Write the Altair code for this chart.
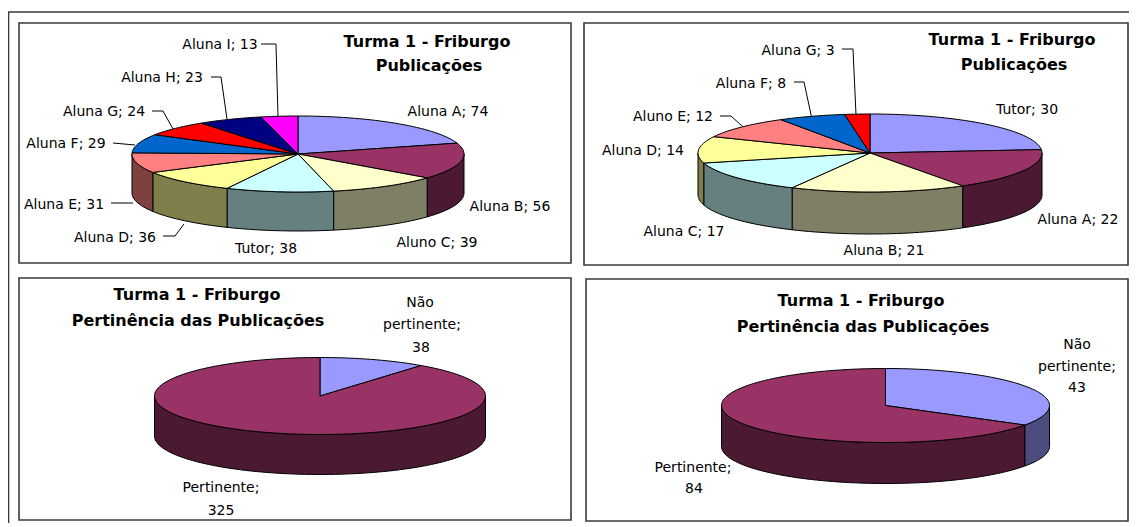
import math
import altair as alt
import pandas as pd

# ---- values ----
P1_NAMES = ["Aluna A", "Aluna B", "Aluno C", "Tutor", "Aluna D", "Aluna E", "Aluna F", "Aluna G", "Aluna H", "Aluna I"]
P1_VALUES = [74, 56, 39, 38, 36, 31, 29, 24, 23, 13]
P2_NAMES = ["Tutor", "Aluna A", "Aluna B", "Aluna C", "Aluna D", "Aluno E", "Aluna F", "Aluna G"]
P2_VALUES = [30, 22, 21, 17, 14, 12, 8, 3]
P3_VALUES = [38, 325]
P4_VALUES = [43, 84]
TITLE_1 = "Turma 1 - Friburgo"
TITLE_PUB = "Publicações"
TITLE_PERT = "Pertinência das Publicações"

# ---- styles ----
TOP_COLORS = ["#9999FF", "#993366", "#FFFFCC", "#CCFFFF", "#FFFF99", "#FF8080", "#0066CC", "#FF0000", "#000080", "#FF00FF"]
P2_TOP = ["#9999FF", "#993366", "#FFFFCC", "#CCFFFF", "#FFFF99", "#FF8080", "#0066CC", "#FF0000"]
def dark(c):
    return "#" + "".join(f"{int(c[i:i+2], 16) // 2:02X}" for i in (1, 3, 5))

# ---- layout: screen pixels ----
X0, X1, Y0, Y1 = 8, 1129, 8, 523
FRAMES = [(19, 571, 23, 263), (584, 1128, 23, 265), (19, 571, 278, 520), (586, 1128, 279, 521)]
PIES = [  # cx, cy, rx, ry, depth
    (298, 154, 166, 38, 39),
    (870, 153, 172, 39, 42),
    (320, 396, 165.5, 38.5, 40),
    (885.5, 405.5, 164, 37, 41),
]
LEADERS = [
    [(261, 44), (276, 44), (278, 117)],
    [(211, 77), (221, 77), (227, 119)],
    [(152, 111), (163, 111), (173, 129)],
    [(113, 143), (135, 145)],
    [(111, 203), (133, 203)],
    [(163, 236), (175, 236), (184, 224)],
    [(842, 49), (853, 49), (856, 115)],
    [(794, 82), (804, 82), (811.5, 117)],
    [(720, 116), (731, 116), (742, 126)],
]
P1_LABEL_POS = [(448, 111), (510, 206), (437, 242), (266, 248), (115, 237), (64, 204), (66, 143), (104, 111), (162, 77), (220, 44)]
P2_LABEL_POS = [(1027, 109), (1078, 219), (884, 250), (684, 231), (643, 150), (673, 116), (751, 83), (798, 50)]

def label_rows():
    rows = []
    for names, vals, pos in ((P1_NAMES, P1_VALUES, P1_LABEL_POS), (P2_NAMES, P2_VALUES, P2_LABEL_POS)):
        for n, v, (x, y) in zip(names, vals, pos):
            rows.append({"x": x, "y": y, "t": f"{n}; {v}"})
    for t, x, y in (("Não", 420, 302), ("pertinente;", 422, 324), (str(P3_VALUES[0]), 421, 347),
                    ("Pertinente;", 221, 487), (str(P3_VALUES[1]), 221, 510),
                    ("Não", 1077, 344), ("pertinente;", 1077, 366), (str(P4_VALUES[0]), 1077, 387),
                    ("Pertinente;", 693, 467), (str(P4_VALUES[1]), 694, 488)):
        rows.append({"x": x, "y": y, "t": t})
    return rows

def title_rows():
    return [
        {"x": 427, "y": 41, "t": TITLE_1}, {"x": 429, "y": 65, "t": TITLE_PUB},
        {"x": 1012, "y": 39, "t": TITLE_1}, {"x": 1014, "y": 64, "t": TITLE_PUB},
        {"x": 197, "y": 294, "t": TITLE_1}, {"x": 198, "y": 320, "t": TITLE_PERT},
        {"x": 861, "y": 300, "t": TITLE_1}, {"x": 863, "y": 326, "t": TITLE_PERT},
    ]

# ---- slices derived from the values ----
def arc_points(a0, a1):
    n = max(2, int(abs(a1 - a0) / 2) + 1)
    return [a0 + (a1 - a0) * i / n for i in range(n + 1)]

def pt(pie, deg, drop=0):
    cx, cy, rx, ry, _ = pie
    r = math.radians(deg)
    return cx + rx * math.sin(r), cy - ry * math.cos(r) + drop

top_rows, side_rows = [], []
SERIES = [(P1_VALUES, TOP_COLORS), (P2_VALUES, P2_TOP), (P3_VALUES, TOP_COLORS[:2]), (P4_VALUES, TOP_COLORS[:2])]
for p, (vals, cols) in enumerate(SERIES):
    pie = PIES[p]
    total = sum(vals)
    start = 0.0
    for s, (v, c) in enumerate(zip(vals, cols)):
        end = start + 360.0 * v / total
        key = f"{p}-{s}"
        pts = [(pie[0], pie[1])] + [pt(pie, a) for a in arc_points(start, end)]
        for i, (x, y) in enumerate(pts):
            top_rows.append({"k": key, "i": i, "x": x, "y": y, "c": c})
        a0, a1 = max(start, 90.0), min(end, 270.0)
        if a1 > a0:
            angs = arc_points(a0, a1)
            ring = [pt(pie, a) for a in angs] + [pt(pie, a, pie[4]) for a in reversed(angs)]
            for i, (x, y) in enumerate(ring):
                side_rows.append({"k": key, "i": i, "x": x, "y": y, "c": dark(c)})
        start = end

leader_rows = [{"k": n, "i": i, "x": x, "y": y} for n, line in enumerate(LEADERS) for i, (x, y) in enumerate(line)]
frame_rows = [{"x": a, "x2": b, "y": c, "y2": d} for a, b, c, d in FRAMES]
outer_rows = [{"k": 0, "i": 0, "x": X1, "y": 12}, {"k": 0, "i": 1, "x": 8.5, "y": 12}, {"k": 0, "i": 2, "x": 8.5, "y": Y1}]

xs = alt.Scale(domain=[X0, X1])
ys = alt.Scale(domain=[Y1, Y0])
X = alt.X("x:Q", scale=xs, axis=None)
Y = alt.Y("y:Q", scale=ys, axis=None)

frames = alt.Chart(pd.DataFrame(frame_rows)).mark_rect(fill="white", stroke="#3a3a3a", strokeWidth=1.6).encode(
    x=X, x2="x2:Q", y=Y, y2="y2:Q")
outer = alt.Chart(pd.DataFrame(outer_rows)).mark_line(color="#3a3a3a", strokeWidth=1.6).encode(
    x=X, y=Y, detail="k:N", order="i:Q")

def slices(rows):
    return alt.Chart(pd.DataFrame(rows)).mark_line(
        interpolate="linear-closed", stroke="black", strokeWidth=1).encode(
        x=X, y=Y, detail="k:N", order="i:Q", fill=alt.Fill("c:N", scale=None, legend=None))

leaders = alt.Chart(pd.DataFrame(leader_rows)).mark_line(color="black", strokeWidth=1).encode(
    x=X, y=Y, detail="k:N", order="i:Q")
labels = alt.Chart(pd.DataFrame(label_rows())).mark_text(
    font="DejaVu Sans", fontSize=14, color="black", align="center", baseline="middle", dy=1).encode(x=X, y=Y, text="t:N")
titles = alt.Chart(pd.DataFrame(title_rows())).mark_text(
    font="DejaVu Sans", fontSize=16, fontWeight="bold", color="black", align="center", baseline="middle", dy=1).encode(x=X, y=Y, text="t:N")

chart = alt.layer(frames, outer, slices(side_rows), slices(top_rows), leaders, labels, titles).properties(
    width=X1 - X0, height=Y1 - Y0, padding=0,
    autosize=alt.AutoSizeParams(type="none"),
    background="white",
).configure_view(stroke=None)

chart.save("out.html", embed_options={"renderer": "svg", "actions": False})
